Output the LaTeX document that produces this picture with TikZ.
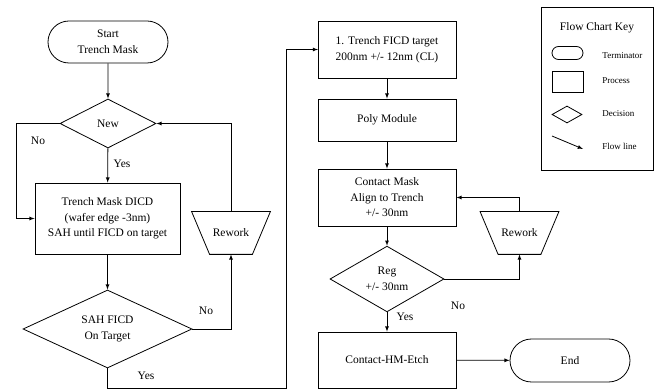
\documentclass[tikz,border=0pt]{standalone}
\usepackage{fontspec}
\setmainfont{Liberation Serif}
\usetikzlibrary{shapes.geometric,shapes.misc}
\tikzset{
  term/.style={draw,rounded rectangle,minimum width=120pt,minimum height=42pt,inner sep=0pt,align=center},
  proc/.style={draw,rectangle,minimum width=138pt,inner sep=0pt,align=center},
  dec/.style={draw,diamond,inner sep=0pt,align=center},
  rwk/.style={rectangle,minimum width=78pt,minimum height=42pt,inner sep=0pt,
    append after command={\pgfextra{\let\rwnode\tikzlastnode}
      (\rwnode.north west) -- (\rwnode.north east) -- ([xshift=-18pt]\rwnode.south east)
      -- ([xshift=18pt]\rwnode.south west) -- cycle}},
  flow/.style={->,>=latex},
  lbl/.style={inner sep=0pt},
  keytxt/.style={anchor=west,inner sep=0pt,font=\fontsize{9}{11}\selectfont}
}
\begin{document}
\begin{tikzpicture}[x=1pt,y=-1pt,line width=0.8pt,font=\fontsize{11.5}{15.5}\selectfont]
  \useasboundingbox (0,0) rectangle (665,390);
  % left column
  \node[term] (start) at (108,42) {Start\\Trench Mask};
  \node[dec,minimum width=96pt,minimum height=49pt] (new) at (108,123.5) {New};
  \node[proc,minimum width=145pt,minimum height=71pt] (dicd) at (107.5,218.5) {Trench Mask DICD\\(wafer edge -3nm)\\SAH until FICD on target};
  \node[dec,minimum width=169pt,minimum height=78pt] (sah) at (107.5,329) {SAH FICD\\On Target};
  \draw node[rwk] (rw1) at (231,233) {Rework};
  \draw[flow] (start) -- (new);
  \draw[flow] (new.west) -- ++(-43,0) |- (dicd.west);
  \draw[flow] (new) -- (dicd);
  \draw[flow] (dicd) -- (sah);
  \draw[flow] (sah.east) -| (rw1.south);
  \draw[flow] (rw1.north) |- (new.east);
  \coordinate (bend) at (286,388);
  \draw[flow] (sah.south) |- (bend) |- (318,49.5);
  \node[lbl] (no1) at (38,141) {No};
  \node[lbl] (yes1) at (122,164) {Yes};
  \node[lbl] (no2) at (206,311) {No};
  \node[lbl] (yes2) at (146,376) {Yes};
  % right column
  \node[proc,minimum height=57pt] (fic) at (387,49.5) {1. Trench FICD target\\200nm +/- 12nm (CL)};
  \node[proc,minimum height=42pt] (poly) at (387,120) {Poly Module};
  \node[proc,minimum height=57pt] (cmask) at (387,197.5) {Contact Mask\\Align to Trench\\+/- 30nm};
  \node[dec,minimum width=114pt,minimum height=48pt] (reg) at (387,279) {Reg\\+/- 30nm};
  \node[proc,minimum height=56pt] (etch) at (387,360) {Contact-HM-Etch};
  \node[term,minimum height=43pt] (end) at (570,360.5) {End};
  \draw node[rwk] (rw2) at (519.5,233) {Rework};
  \draw[flow] (fic) -- (poly);
  \draw[flow] (poly) -- (cmask);
  \draw[flow] (cmask) -- (reg);
  \draw[flow] (reg) -- (etch);
  \draw[flow] (etch) -- (end);
  \draw[flow] (reg.east) -| (rw2.south);
  \draw[flow] (rw2.north) |- (cmask.east);
  \node[lbl] (no3) at (458,306) {No};
  \node[lbl] (yes3) at (405,317) {Yes};
  % key
  \node[draw,minimum width=112pt,minimum height=163pt] (key) at (597,88.5) {};
  \node[lbl] (keyt) at (597,28) {Flow Chart Key};
  \node[term,minimum width=31pt,minimum height=13pt] (kterm) at (567.5,53) {};
  \node[draw,minimum width=31pt,minimum height=21pt] (kproc) at (567.5,81.5) {};
  \node[draw,diamond,inner sep=0pt,minimum width=30pt,minimum height=17pt] (kdec) at (567,114.5) {};
  \coordinate (kfa) at (552,136);
  \coordinate (kfb) at (583,149);
  \draw[flow] (kfa) -- (kfb);
  \node[keytxt] at (602,56) {Terminator};
  \node[keytxt] at (602,81) {Process};
  \node[keytxt] at (602,114) {Decision};
  \node[keytxt] at (602,146) {Flow line};
\end{tikzpicture}
\end{document}
